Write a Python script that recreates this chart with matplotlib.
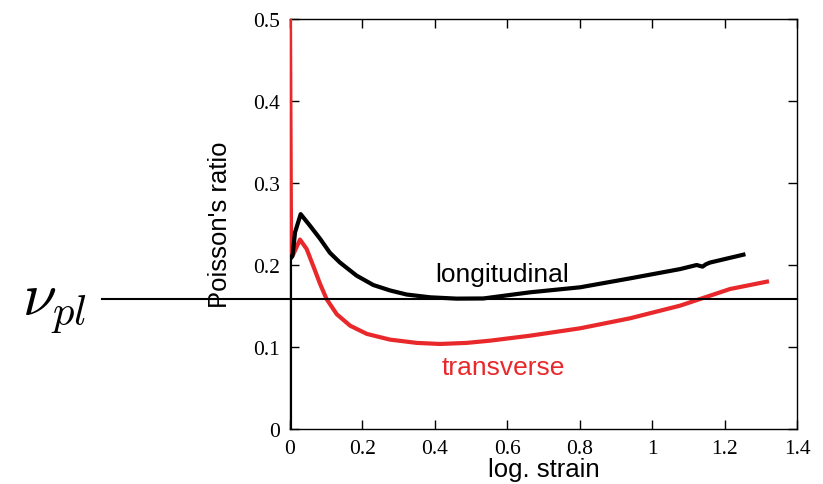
import matplotlib.pyplot as plt

# curves
long_x = [0.0, 0.0, 0.007, 0.014, 0.0295, 0.055, 0.083, 0.11, 0.138, 0.184, 0.23, 0.276, 0.322, 0.387, 0.46, 0.534,
          0.663, 0.801, 0.939, 1.077, 1.123, 1.139, 1.149, 1.16, 1.252]
long_y = [0.0, 0.207, 0.211, 0.24, 0.262, 0.248, 0.232, 0.215, 0.203, 0.187, 0.1756, 0.169, 0.164, 0.1606, 0.159, 0.1592,
          0.1667, 0.1728, 0.1837, 0.195, 0.2, 0.198, 0.201, 0.203, 0.2126]

trans_x = [0.0, 0.003, 0.009, 0.0276, 0.046, 0.064, 0.083, 0.101, 0.129, 0.166, 0.212, 0.276, 0.35, 0.414, 0.488,
           0.552, 0.663, 0.801, 0.939, 1.077, 1.215, 1.317]
trans_y = [0.5, 0.215, 0.213, 0.231, 0.2195, 0.199, 0.177, 0.1585, 0.14, 0.126, 0.116, 0.109, 0.105, 0.1037, 0.105,
           0.1077, 0.1138, 0.1228, 0.135, 0.1504, 0.1707, 0.1797]

nu_pl = 0.158

xticks = [0, 0.2, 0.4, 0.6, 0.8, 1.0, 1.2, 1.4]
xtick_labels = ["0", "0.2", "0.4", "0.6", "0.8", "1", "1.2", "1.4"]
yticks = [0, 0.1, 0.2, 0.3, 0.4, 0.5]
ytick_labels = ["0", "0.1", "0.2", "0.3", "0.4", "0.5"]

plt.rcParams['mathtext.fontset'] = 'cm'

fig = plt.figure(figsize=(8.23, 4.85), dpi=100)
ax = fig.add_axes([290 / 823, 55 / 485, 507 / 823, 410 / 485])

ax.plot(trans_x, trans_y, color='#e8282a', lw=3.0, solid_joinstyle='round', zorder=3)
ax.plot(long_x, long_y, color='black', lw=3.0, solid_joinstyle='round', zorder=4)

# nu_pl line reaching out of the axes to the left
ax.plot([-0.52, 1.4], [nu_pl, nu_pl], color='black', lw=1.5, clip_on=False, zorder=5)
fig.text(22 / 823, 1 - 306 / 485, r'$\nu_{pl}$', fontsize=44, va='center', ha='left')

ax.text(0.587, 0.181, "longitudinal", fontsize=19, family='Liberation Sans', ha='center', va='baseline')
ax.text(0.589, 0.067, "transverse", fontsize=19, family='Liberation Sans', ha='center', va='baseline',
        color='#e8282a')

ax.set_xlim(0, 1.4)
ax.set_ylim(0, 0.5)
ax.set_xticks(xticks)
ax.set_xticklabels(xtick_labels, family='Liberation Serif', fontsize=15.5)
ax.set_yticks(yticks)
ax.set_yticklabels(ytick_labels, family='Liberation Serif', fontsize=15.5)
ax.tick_params(direction='in', top=True, right=True, length=6.5, width=1, pad=7)

ax.set_xlabel("log. strain", family='Liberation Sans', fontsize=18.5)
ax.set_ylabel("Poisson's ratio", family='Liberation Sans', fontsize=18.5)
ax.xaxis.set_label_coords(0.5, -0.068)
ax.yaxis.set_label_coords(-0.114, 0.5)

for s in ax.spines.values():
    s.set_linewidth(1.0)

fig.savefig("out.png", dpi=100)
